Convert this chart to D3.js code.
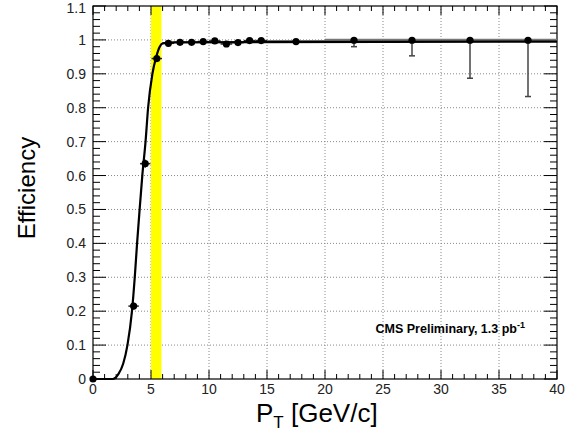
<!DOCTYPE html>
<html>
<head>
<meta charset="utf-8">
<script src="https://cdn.jsdelivr.net/npm/d3@7"></script>
<style>
  body { margin: 0; background: #fff; }
  svg { font-family: "Liberation Sans", Arial, sans-serif; }
</style>
</head>
<body>
<div id="chart"></div>
<script>
// measured efficiency per pT bin
const ptCenters = [0, 3.5, 4.5, 5.5, 6.5, 7.5, 8.5, 9.5, 10.5, 11.5, 12.5, 13.5, 14.5, 17.5, 22.5, 27.5, 32.5, 37.5];
const ptHalfWidth = [0, 0.45, 0.45, 0.45, 0.5, 0.5, 0.5, 0.5, 0.5, 0.5, 0.5, 0.5, 0.5, 2.5, 2.5, 2.5, 2.5, 2.5];
const efficiency = [0, 0.215, 0.635, 0.945, 0.99, 0.993, 0.993, 0.995, 0.997, 0.988, 0.992, 0.998, 0.998, 0.995, 0.999, 0.999, 0.999, 0.999];
const effErrLow = [0, 0.01, 0.012, 0.01, 0.003, 0.003, 0.003, 0.003, 0.003, 0.006, 0.006, 0.004, 0.004, 0.004, 0.019, 0.046, 0.112, 0.166];
const effErrHigh = [0, 0.01, 0.012, 0.01, 0.003, 0.003, 0.003, 0.002, 0.002, 0.005, 0.005, 0.002, 0.002, 0.003, 0.001, 0.001, 0.001, 0.001];

// fitted turn-on curve
const fitPt = [0, 1.7, 2.2, 2.6, 2.97, 3.36, 3.6, 3.8, 4.02, 4.25, 4.53, 4.75, 5.12, 5.45, 5.75, 6.0, 7.0, 40];
const fitEff = [0, 0, 0.015, 0.045, 0.1, 0.2, 0.3, 0.4, 0.5, 0.6, 0.7, 0.8, 0.9, 0.95, 0.98, 0.99, 0.993, 0.995];

// trigger threshold band
const bandRange = [5.0, 5.9];

const xTicks = [0, 5, 10, 15, 20, 25, 30, 35, 40];
const yTicks = [0, 0.1, 0.2, 0.3, 0.4, 0.5, 0.6, 0.7, 0.8, 0.9, 1, 1.1];

const W = 566, H = 436;
const margin = {top: 6, right: 9, bottom: 57, left: 93};
const svg = d3.select("#chart").append("svg")
    .attr("width", W)
    .attr("height", H);

const x = d3.scaleLinear().domain([0, 40]).range([margin.left, W - margin.right]);
const y = d3.scaleLinear().domain([0, 1.1]).range([H - margin.bottom, margin.top]);

// grid
const grid = svg.append("g").attr("stroke", "#888").attr("stroke-dasharray", "1,2").attr("stroke-width", 1);
grid.selectAll(".gx").data(xTicks.slice(1, -1)).join("line")
    .attr("x1", d => x(d)).attr("x2", d => x(d))
    .attr("y1", y(0)).attr("y2", y(1.1));
grid.selectAll(".gy").data(yTicks.slice(1, -1)).join("line")
    .attr("x1", x(0)).attr("x2", x(40))
    .attr("y1", d => y(d)).attr("y2", d => y(d));

// yellow band
svg.append("rect")
    .attr("x", x(bandRange[0]))
    .attr("width", x(bandRange[1]) - x(bandRange[0]))
    .attr("y", y(1.1))
    .attr("height", y(0) - y(1.1))
    .attr("fill", "#ffff00");

// axes, ROOT style: ticks inside on all four sides
const xMinor = d3.range(0, 41, 1);
const yMinor = d3.range(0, 111, 2).map(d => d / 100);
function xAxisTicks(g, y0, dir) {
    g.selectAll(".minor").data(xMinor).join("line")
        .attr("x1", d => x(d)).attr("x2", d => x(d))
        .attr("y1", y0).attr("y2", d => y0 + dir * (d % 5 === 0 ? 9 : 5));
}
function yAxisTicks(g, x0, dir) {
    g.selectAll(".minor").data(yMinor).join("line")
        .attr("y1", d => y(d)).attr("y2", d => y(d))
        .attr("x1", x0).attr("x2", d => x0 + dir * (Math.round(d * 100) % 10 === 0 ? 13 : 7));
}
const ticks = svg.append("g").attr("stroke", "#000").attr("stroke-width", 1);
xAxisTicks(ticks.append("g"), y(0), -1);
xAxisTicks(ticks.append("g"), y(1.1), 1);
yAxisTicks(ticks.append("g"), x(0), 1);
yAxisTicks(ticks.append("g"), x(40), -1);

svg.append("rect")
    .attr("x", x(0)).attr("y", y(1.1))
    .attr("width", x(40) - x(0)).attr("height", y(0) - y(1.1))
    .attr("fill", "none").attr("stroke", "#000").attr("stroke-width", 1.2);

svg.append("g").selectAll("text").data(xTicks).join("text")
    .attr("x", d => x(d)).attr("y", y(0) + 15)
    .attr("text-anchor", "middle").attr("font-size", 14).attr("fill", "#222")
    .text(d => d);
svg.append("g").selectAll("text").data(yTicks).join("text")
    .attr("x", x(0) - 7).attr("y", d => Math.max(y(d) + 5, 13))
    .attr("text-anchor", "end").attr("font-size", 14).attr("fill", "#222")
    .text(d => d3.format("~g")(d));

// error bars
const pts = ptCenters.map((p, i) => ({p, e: efficiency[i], dx: ptHalfWidth[i], lo: effErrLow[i], hi: effErrHigh[i]}));
const err = svg.append("g").attr("stroke", "#444").attr("stroke-width", 1.5);
err.selectAll(".h").data(pts.filter(d => d.dx > 0)).join("line")
    .attr("stroke-width", d => d.dx > 1 ? 3 : 1.5)
    .attr("stroke", d => d.dx > 1 ? "#777" : "#222")
    .attr("x1", d => x(d.p - d.dx)).attr("x2", d => x(d.p + d.dx))
    .attr("y1", d => y(d.e)).attr("y2", d => y(d.e));
err.selectAll(".v").data(pts).join("line")
    .attr("x1", d => x(d.p)).attr("x2", d => x(d.p))
    .attr("y1", d => y(d.e - d.lo)).attr("y2", d => y(d.e + d.hi));
err.selectAll(".cap").data(pts.filter(d => d.lo > 0.015)).join("line")
    .attr("x1", d => x(d.p) - 3).attr("x2", d => x(d.p) + 3)
    .attr("y1", d => y(d.e - d.lo)).attr("y2", d => y(d.e - d.lo));

// fit
const line = d3.line()
    .x(d => x(d[0]))
    .y(d => y(d[1]))
    .curve(d3.curveMonotoneX);
svg.append("path")
    .datum(fitPt.map((p, i) => [p, fitEff[i]]))
    .attr("d", line)
    .attr("fill", "none")
    .attr("stroke", "#000")
    .attr("stroke-width", 2.2);

svg.append("g").selectAll("circle").data(pts).join("circle")
    .attr("cx", d => x(d.p)).attr("cy", d => y(d.e))
    .attr("r", 3.6).attr("fill", "#000");

// labels
svg.append("text")
    .attr("transform", "translate(35, 188) rotate(-90)")
    .attr("text-anchor", "middle")
    .attr("font-size", 24)
    .text("Efficiency");

const xl = svg.append("text")
    .attr("x", 256).attr("y", 422)
    .attr("font-size", 26);
xl.append("tspan").text("P");
xl.append("tspan").attr("font-size", 17).attr("dy", 6).text("T");
xl.append("tspan").attr("dy", -6).text(" [GeV/c]");

const leg = svg.append("text")
    .attr("x", 525).attr("y", 333)
    .attr("text-anchor", "end")
    .attr("font-size", 12.5)
    .attr("font-weight", "bold");
leg.append("tspan").text("CMS Preliminary, 1.3 pb");
leg.append("tspan").attr("font-size", 9).attr("dy", -5).text("-1");
</script>
</body>
</html>
